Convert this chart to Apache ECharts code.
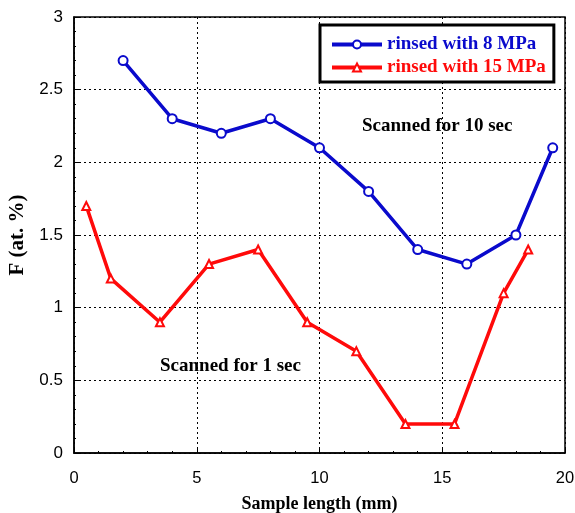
<!DOCTYPE html>
<html>
<head>
<meta charset="utf-8">
<script src="https://cdn.jsdelivr.net/npm/echarts@6/dist/echarts.min.js"></script>
<style>html,body{margin:0;padding:0;background:#fff}#c{width:575px;height:513px}</style>
</head>
<body>
<div id="c"></div>
<script>
var xTicks = [0, 5, 10, 15, 20];
var yTicks = [0, 0.5, 1, 1.5, 2, 2.5, 3];
var blueName = 'rinsed with 8 MPa';
var redName = 'rinsed with 15 MPa';
var blueX = [2, 4, 6, 8, 10, 12, 14, 16, 18, 19.5];
var blueY = [2.7, 2.3, 2.2, 2.3, 2.1, 1.8, 1.4, 1.3, 1.5, 2.1];
var redX = [0.5, 1.5, 3.5, 5.5, 7.5, 9.5, 11.5, 13.5, 15.5, 17.5, 18.5];
var redY = [1.7, 1.2, 0.9, 1.3, 1.4, 0.9, 0.7, 0.2, 0.2, 1.1, 1.4];
var xName = 'Sample length (mm)';
var yName = 'F (at. %)';
var note10 = 'Scanned for 10 sec';
var note1 = 'Scanned for 1 sec';

function pairs(xs, ys){ return xs.map(function(x,i){return [x, ys[i]];}); }
var BLUE = '#0a0acc', RED = '#ff0a0a';
var serif = '"Liberation Serif", "Times New Roman", serif';
var sans = '"Liberation Sans", Arial, sans-serif';

var chart = echarts.init(document.getElementById('c'));
chart.setOption({
  animation: false,
  grid: {left: 74, right: 10, top: 17, bottom: 60, containLabel: false, outerBoundsMode: 'none',
         show: true, borderColor: '#000', borderWidth: 1.5},
  xAxis: {
    type: 'value', min: xTicks[0], max: xTicks[xTicks.length-1], interval: 5,
    name: xName, nameLocation: 'middle', nameGap: 42,
    nameTextStyle: {fontFamily: serif, fontWeight: 'bold', fontSize: 18, color: '#000'},
    axisLine: {show: true, onZero: false, lineStyle: {color: '#000', width: 1.5}},
    axisTick: {show: true, inside: true, length: 5, lineStyle: {color: '#000'}},
    minorTick: {show: true, splitNumber: 5, length: 2, lineStyle: {color: '#000'}},
    axisLabel: {fontFamily: sans, fontSize: 16.5, color: '#000', margin: 17},
    splitLine: {show: true, lineStyle: {color: '#000', type: [2, 3], width: 1}}
  },
  yAxis: {
    type: 'value', min: yTicks[0], max: yTicks[yTicks.length-1], interval: 0.5,
    name: yName, nameLocation: 'middle', nameGap: 35,
    nameTextStyle: {fontFamily: serif, fontWeight: 'bold', fontSize: 21, color: '#000'},
    axisLine: {show: true, lineStyle: {color: '#000', width: 1.5}},
    axisTick: {show: true, inside: true, length: 5, lineStyle: {color: '#000'}},
    minorTick: {show: true, splitNumber: 5, length: 2, lineStyle: {color: '#000'}},
    axisLabel: {fontFamily: sans, fontSize: 17, color: '#000', margin: 11,
      formatter: function(v){ return String(v); }},
    splitLine: {show: true, lineStyle: {color: '#000', type: [2, 3], width: 1}}
  },
  legend: {
    left: 320, top: 25, width: 235, orient: 'vertical',
    backgroundColor: '#fff', borderColor: '#000', borderWidth: 3,
    padding: [10, 8, 5, 10], itemGap: 4, itemWidth: 50, itemHeight: 10,
    lineStyle: {width: 4},
    textStyle: {fontFamily: serif, fontWeight: 'bold', fontSize: 19},
    data: [
      {name: blueName, textStyle: {color: BLUE}},
      {name: redName, textStyle: {color: RED}}
    ]
  },
  graphic: [
    {type: 'text', left: 362, top: 117, style: {text: note10, font: 'bold 19px ' + serif, fill: '#000'}},
    {type: 'text', left: 160, top: 357, style: {text: note1, font: 'bold 19px ' + serif, fill: '#000'}}
  ],
  series: [
    {name: blueName, type: 'line', data: pairs(blueX, blueY), symbol: 'emptyCircle', symbolSize: 9,
     lineStyle: {color: BLUE, width: 3.5}, itemStyle: {color: BLUE, borderWidth: 1.2}, z: 3},
    {name: redName, type: 'line', data: pairs(redX, redY), symbol: 'emptyTriangle', symbolSize: 8,
     lineStyle: {color: RED, width: 3.5}, itemStyle: {color: RED, borderWidth: 1.2}, z: 3}
  ]
});
</script>
</body>
</html>
